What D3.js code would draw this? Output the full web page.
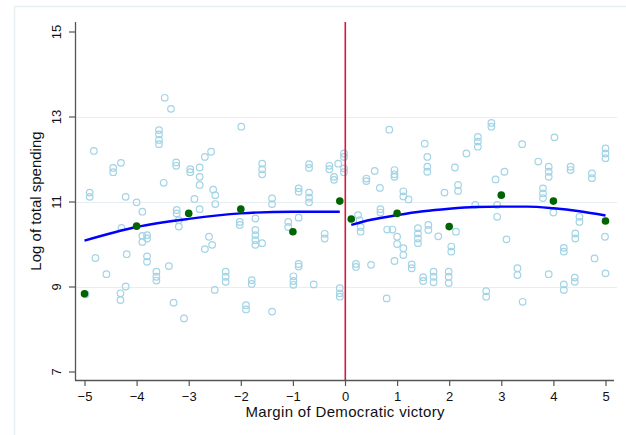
<!DOCTYPE html>
<html>
<head>
<meta charset="utf-8">
<script src="https://cdn.jsdelivr.net/npm/d3@7/dist/d3.min.js"></script>
<style>
  html, body { margin: 0; padding: 0; background: #fff; }
  svg { display: block; font-family: "Liberation Sans", Arial, sans-serif; }
</style>
</head>
<body>
<svg id="chart" width="626" height="435"></svg>
<script>
// Axis ticks
const xTicks = [-5, -4, -3, -2, -1, 0, 1, 2, 3, 4, 5];
const yTicks = [7, 9, 11, 13, 15];
const yGrid = [9, 11, 13];
const cutoff = 0;

// Individual observations: [margin, log spending]
const obsLeft = [
  [-4.98, 8.82],
  [-4.90, 11.21], [-4.90, 11.11],
  [-4.82, 12.19],
  [-4.79, 9.67],
  [-4.58, 9.29],
  [-4.45, 11.79], [-4.45, 11.69],
  [-4.30, 11.91],
  [-4.29, 10.38],
  [-4.31, 8.84], [-4.31, 8.68],
  [-4.21, 11.11],
  [-4.19, 9.76],
  [-4.21, 9.00],
  [-4.00, 10.98],
  [-3.89, 10.76],
  [-3.89, 10.19], [-3.80, 10.21], [-3.80, 10.13], [-3.89, 10.05],
  [-3.80, 9.71], [-3.80, 9.58],
  [-3.62, 9.35], [-3.62, 9.23], [-3.62, 9.14],
  [-3.57, 12.68], [-3.57, 12.58], [-3.57, 12.45], [-3.57, 12.35],
  [-3.48, 11.44],
  [-3.46, 13.44],
  [-3.38, 9.48],
  [-3.34, 13.18],
  [-3.29, 8.62],
  [-3.24, 11.92], [-3.24, 11.84],
  [-3.23, 10.80], [-3.23, 10.72],
  [-3.19, 10.56], [-3.19, 10.41],
  [-3.09, 8.25],
  [-2.97, 11.76], [-2.97, 11.69],
  [-2.89, 11.06],
  [-2.79, 11.80], [-2.79, 11.58], [-2.79, 11.39],
  [-2.79, 10.82],
  [-2.69, 12.05], [-2.57, 12.17],
  [-2.69, 9.88],
  [-2.61, 10.17],
  [-2.55, 9.98],
  [-2.53, 11.28], [-2.49, 11.15], [-2.49, 10.94],
  [-2.50, 8.92],
  [-2.29, 9.35], [-2.29, 9.23], [-2.29, 9.11],
  [-2.02, 10.52], [-2.02, 10.45],
  [-1.99, 12.76],
  [-1.90, 8.56], [-1.90, 8.46],
  [-1.79, 9.15], [-1.79, 9.06],
  [-1.72, 10.60], [-1.72, 10.33], [-1.72, 10.21], [-1.72, 10.09], [-1.72, 9.98],
  [-1.59, 10.02],
  [-1.59, 11.89], [-1.59, 11.76], [-1.59, 11.64],
  [-1.40, 11.07], [-1.40, 10.94],
  [-1.40, 8.41],
  [-1.09, 10.52], [-1.09, 10.40],
  [-0.99, 9.24], [-0.99, 9.13], [-0.99, 9.04],
  [-0.89, 11.31], [-0.89, 11.23],
  [-0.89, 10.62],
  [-0.89, 9.53], [-0.89, 9.47],
  [-0.69, 11.88], [-0.69, 11.79],
  [-0.69, 11.21], [-0.69, 11.09], [-0.69, 10.98],
  [-0.60, 9.05],
  [-0.39, 10.24], [-0.39, 10.13],
  [-0.30, 11.84], [-0.30, 11.76],
  [-0.21, 11.58], [-0.21, 11.51],
  [-0.13, 11.89],
  [-0.10, 8.96], [-0.10, 8.84], [-0.10, 8.76],
  [-0.02, 12.13], [-0.02, 12.05],
  [-0.02, 11.78], [-0.02, 11.69]
];

const obsRight = [
  [0.21, 9.53], [0.21, 9.46],
  [0.25, 10.68], [0.28, 10.56], [0.30, 10.40], [0.30, 10.29],
  [0.41, 11.54], [0.41, 11.48],
  [0.50, 9.51],
  [0.57, 11.72],
  [0.67, 11.32],
  [0.68, 10.82], [0.68, 10.74],
  [0.80, 8.72],
  [0.81, 10.34], [0.91, 10.34],
  [0.85, 12.69],
  [0.95, 11.74], [0.95, 11.64], [0.95, 11.58],
  [0.95, 9.60],
  [1.00, 10.17], [1.00, 10.00],
  [1.12, 11.24], [1.12, 11.12],
  [1.12, 9.90], [1.12, 9.74],
  [1.22, 11.05],
  [1.28, 9.52], [1.28, 9.43],
  [1.40, 10.37], [1.40, 10.25], [1.40, 10.13], [1.40, 10.02],
  [1.50, 9.22], [1.50, 9.13],
  [1.53, 12.36],
  [1.58, 12.05], [1.58, 11.82], [1.58, 11.70],
  [1.60, 10.45], [1.60, 10.33],
  [1.70, 9.35], [1.70, 9.23], [1.70, 9.10],
  [1.79, 10.18],
  [1.91, 11.21],
  [1.99, 9.35], [1.99, 9.23], [1.99, 9.08],
  [2.04, 9.94], [2.04, 9.82],
  [2.11, 11.80],
  [2.13, 10.29],
  [2.17, 11.39], [2.17, 11.25],
  [2.33, 12.13],
  [2.50, 10.92],
  [2.55, 12.52], [2.55, 12.41], [2.55, 12.29],
  [2.71, 8.89], [2.71, 8.76],
  [2.81, 12.85], [2.81, 12.76],
  [2.89, 11.52],
  [2.92, 10.92], [2.92, 10.64],
  [3.06, 11.70],
  [3.10, 10.11],
  [3.31, 9.43], [3.31, 9.27],
  [3.40, 12.35],
  [3.41, 8.64],
  [3.71, 11.94],
  [3.80, 11.31], [3.80, 11.19], [3.80, 11.08],
  [3.91, 11.82], [3.91, 11.70], [3.91, 11.58],
  [3.91, 9.29],
  [4.00, 10.74],
  [4.02, 12.51],
  [4.20, 9.91], [4.20, 9.82],
  [4.20, 9.05], [4.20, 8.92],
  [4.33, 11.82], [4.33, 11.74],
  [4.41, 9.21], [4.41, 9.11],
  [4.42, 10.25], [4.42, 10.13],
  [4.50, 10.64], [4.50, 10.52],
  [4.74, 11.66], [4.74, 11.55],
  [4.79, 9.66],
  [4.99, 10.17],
  [5.00, 12.25], [5.00, 12.13], [5.00, 12.02],
  [5.00, 9.31]
];

// Bin means
const binX = [-5, -4, -3, -2, -1, -0.1, 0.12, 1, 2, 3, 4, 5];
const binY = [8.83, 10.42, 10.72, 10.82, 10.29, 11.01, 10.59, 10.72, 10.41, 11.15, 11.01, 10.54];

// Quadratic fits on each side of the cutoff
const fitLeftX = [-5, -4, -3, -2, -1, -0.1];
const fitLeftY = [10.08, 10.40, 10.59, 10.72, 10.76, 10.76];
const fitRightX = [0.12, 0.5, 1, 1.5, 2, 2.5, 3, 3.5, 4, 4.5, 5];
const fitRightY = [10.45, 10.57, 10.68, 10.77, 10.83, 10.87, 10.88, 10.88, 10.84, 10.77, 10.67];

const svg = d3.select("#chart");

const plotLeft = 75, plotRight = 614, plotTop = 22, plotBottom = 380;
const x = d3.scaleLinear().domain([-5, 5]).range([84.5, 605.5]);
const y = d3.scaleLinear().domain([7, 15]).range([371.5, 31.5]);

// Outer graph frame
svg.append("path")
  .attr("d", "M14.5,435 L14.5,6.5 L626,6.5")
  .attr("fill", "none").attr("stroke", "#e6eef2").attr("stroke-width", 1.5);

// Gridlines
svg.append("g").selectAll("line").data(yGrid).join("line")
  .attr("x1", plotLeft).attr("x2", 617)
  .attr("y1", d => Math.round(y(d)) + 0.5).attr("y2", d => Math.round(y(d)) + 0.5)
  .attr("stroke", "#e7eef1").attr("stroke-width", 1.2);

// Scatter of observations
const obs = obsLeft.concat(obsRight);
svg.append("g").selectAll("circle").data(obs).join("circle")
  .attr("cx", d => x(d[0])).attr("cy", d => y(d[1]))
  .attr("r", 3.3)
  .attr("fill", "none")
  .attr("stroke", "#a3d4e5").attr("stroke-width", 1.2);

// Fit lines
const line = d3.line().x(d => x(d[0])).y(d => y(d[1])).curve(d3.curveMonotoneX);
const fitLeft = fitLeftX.map((v, i) => [v, fitLeftY[i]]);
const fitRight = fitRightX.map((v, i) => [v, fitRightY[i]]);
[fitLeft, fitRight].forEach(pts => {
  svg.append("path").datum(pts)
    .attr("d", line)
    .attr("fill", "none")
    .attr("stroke", "#0000ff").attr("stroke-width", 2.4);
});

// Cutoff line
svg.append("rect")
  .attr("x", Math.round(x(cutoff)) - 0.5).attr("width", 1.6)
  .attr("y", plotTop).attr("height", plotBottom - plotTop)
  .attr("fill", "#dc143c");

// Bin means
svg.append("g").selectAll("circle").data(binX.map((v, i) => [v, binY[i]])).join("circle")
  .attr("cx", d => x(d[0])).attr("cy", d => y(d[1]))
  .attr("r", 3.8)
  .attr("fill", "#006400");

// Axes
const xAxis = d3.axisBottom(x).tickValues(xTicks).tickSize(6).tickPadding(6).tickFormat(d3.format("d"));
const yAxis = d3.axisLeft(y).tickValues(yTicks).tickSize(6).tickFormat(d3.format("d"));

const gx = svg.append("g").attr("transform", `translate(0,${plotBottom})`).call(xAxis);
gx.select(".domain").remove();
gx.append("line").attr("x1", plotLeft).attr("x2", plotRight).attr("y1", 0.5).attr("y2", 0.5)
  .attr("stroke", "#555").attr("stroke-width", 1.3);
gx.selectAll(".tick line").attr("stroke", "#555").attr("stroke-width", 1.2);
gx.selectAll(".tick text").attr("fill", "#111").attr("font-size", 13)
  .attr("font-family", "Liberation Sans, Arial, sans-serif");

const gy = svg.append("g").attr("transform", `translate(${plotLeft},0)`).call(yAxis);
gy.select(".domain").remove();
gy.append("line").attr("x1", 0.5).attr("x2", 0.5).attr("y1", plotTop).attr("y2", plotBottom + 0.5)
  .attr("stroke", "#555").attr("stroke-width", 1.3);
gy.selectAll(".tick line").attr("stroke", "#555").attr("stroke-width", 1.2);
gy.selectAll(".tick text")
  .attr("fill", "#111").attr("font-size", 13)
  .attr("font-family", "Liberation Sans, Arial, sans-serif")
  .attr("text-anchor", "middle").attr("dy", null).attr("x", null)
  .attr("transform", "translate(-14,0) rotate(-90)")
  .attr("dominant-baseline", "auto");

// Axis titles
svg.append("text")
  .attr("x", x(cutoff)).attr("y", 417)
  .attr("text-anchor", "middle")
  .attr("font-size", 15).attr("fill", "#111")
  .attr("textLength", 199).attr("lengthAdjust", "spacing")
  .text("Margin of Democratic victory");

svg.append("text")
  .attr("transform", `translate(41,${(plotTop + plotBottom) / 2}) rotate(-90)`)
  .attr("text-anchor", "middle")
  .attr("font-size", 15).attr("fill", "#111")
  .text("Log of total spending");
</script>
</body>
</html>
